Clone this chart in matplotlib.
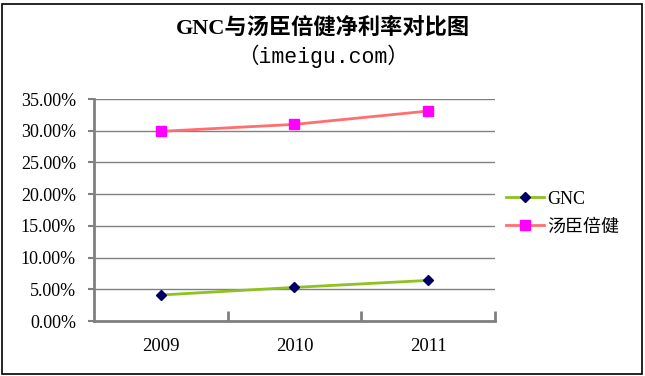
import matplotlib.pyplot as plt
import numpy as np
from matplotlib.patches import Rectangle

years = ["2009", "2010", "2011"]
gnc = [0.041, 0.053, 0.064]
byhealth = [0.299, 0.310, 0.331]
series_names = ["GNC", "汤臣倍健"]
title = "GNC与汤臣倍健净利率对比图"
subtitle = "（imeigu.com）"

serif = ["Liberation Serif", "Noto Sans CJK SC"]

fig = plt.figure(figsize=(6.45, 3.76), dpi=100)
ax = fig.add_axes([94 / 645, 55 / 376, 401 / 645, 222 / 376])

x = np.arange(len(years))
ax.plot(x, gnc, color="#8DC21F", lw=2, marker="D", ms=5.5,
        mfc="#000066", mec="#000066", label=series_names[0])
ax.plot(x, byhealth, color="#FF6F6F", lw=2, marker="s", ms=7,
        mfc="#FF00FF", mec="#FF00FF", label=series_names[1])

ax.set_ylim(0, 0.35)
ax.set_xlim(-0.5, len(years) - 0.5)
yt = np.arange(0, 0.351, 0.05)
ax.set_yticks(yt)
ax.set_yticklabels([f"{v * 100:.2f}%" for v in yt], family=serif, fontsize=13)
ax.yaxis.grid(True, color="#808080", lw=1)
ax.set_axisbelow(True)

ax.set_xticks(x)
ax.set_xticklabels(years, family=serif, fontsize=13.5)
ax.tick_params(axis="x", which="major", length=0, pad=12)
ax.set_xticks(np.arange(0.5, len(years), 1.0), minor=True)
ax.tick_params(axis="x", which="minor", direction="in", length=7, width=2, color="#808080")
ax.tick_params(axis="y", direction="out", length=4, width=1.5, color="#808080", pad=9)

for s in ["top", "right"]:
    ax.spines[s].set_visible(False)
for s in ["left", "bottom"]:
    ax.spines[s].set_color("#808080")
    ax.spines[s].set_linewidth(2)

leg = ax.legend(loc="center left", bbox_to_anchor=(1.0, 0.486), frameon=False,
                prop={"family": serif, "size": 13}, handlelength=2.1,
                handletextpad=0.2, labelspacing=0.6, borderaxespad=0.2)

fig.text(0.5, 1 - 28 / 376, title, ha="center", va="center", fontsize=16,
         fontweight="bold", family=["Liberation Serif", "Noto Sans CJK SC"])
fig.text(0.5, 1 - 56 / 376, subtitle, ha="center", va="center", fontsize=15.5,
         family=["Liberation Mono", "Noto Sans CJK SC"])

fig.patches.append(Rectangle((2 / 645, 2 / 376), 640 / 645, 370 / 376,
                             transform=fig.transFigure, fill=False,
                             edgecolor="black", lw=1.2))

fig.savefig("out.png", dpi=100)
